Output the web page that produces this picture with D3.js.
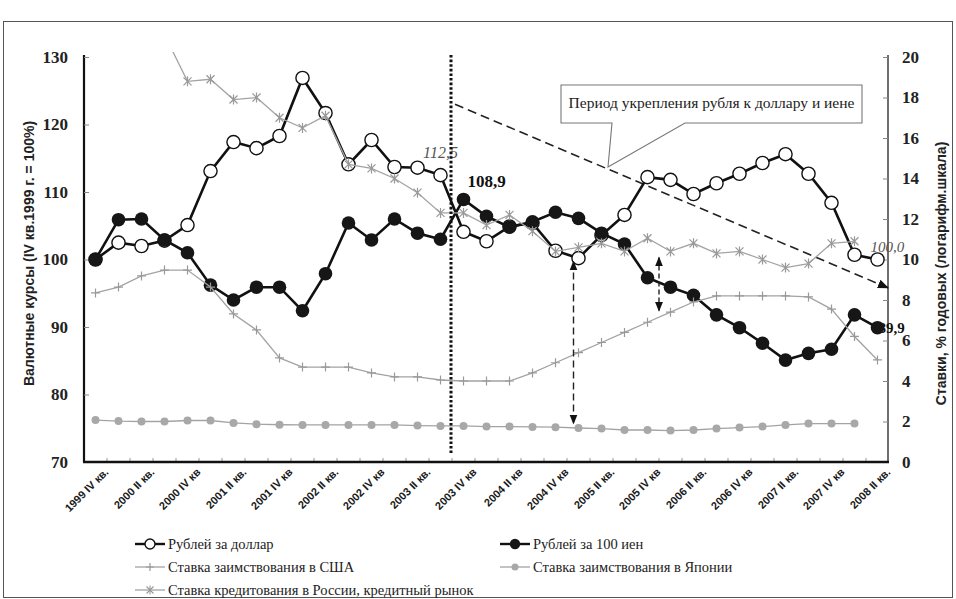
<!DOCTYPE html>
<html><head><meta charset="utf-8">
<script src="https://cdn.jsdelivr.net/npm/d3@7"></script>
<style>body{margin:0;background:#fff}svg{display:block}</style>
</head><body>
<svg id="c" width="956" height="599"></svg>
<script>
const categories = ["1999 IV","2000 I","2000 II","2000 III","2000 IV","2001 I","2001 II","2001 III","2001 IV",
  "2002 I","2002 II","2002 III","2002 IV","2003 I","2003 II","2003 III","2003 IV","2004 I","2004 II","2004 III","2004 IV",
  "2005 I","2005 II","2005 III","2005 IV","2006 I","2006 II","2006 III","2006 IV","2007 I","2007 II","2007 III","2007 IV",
  "2008 I","2008 II"];
const tickLabels = ["1999 IV кв.","2000 II кв.","2000 IV кв","2001 II кв.","2001 IV кв","2002 II кв.","2002 IV кв",
  "2003 II кв.","2003 IV кв","2004 II кв","2004 IV кв","2005 II кв.","2005 IV кв","2006 II кв.","2006 IV кв",
  "2007 II кв.","2007 IV кв","2008 II кв."];
const rubUsd = [100.0,102.5,102.0,102.8,105.1,113.1,117.4,116.5,118.3,126.9,121.7,114.1,117.7,113.7,113.6,112.5,
  104.1,102.7,104.9,105.4,101.3,100.2,103.6,106.6,112.2,111.8,109.7,111.3,112.7,114.3,115.6,112.7,108.4,100.7,100.0];
const rubJpy = [100.0,105.9,106.0,102.9,101.0,96.2,94.0,95.9,95.9,92.4,97.9,105.4,102.9,106.0,103.9,103.0,
  108.9,106.4,104.8,105.6,107.0,106.1,103.9,102.3,97.3,95.9,94.7,91.8,89.9,87.6,85.1,86.1,86.7,91.8,89.9];
const usRate = [8.35,8.64,9.19,9.48,9.48,8.64,7.31,6.52,5.14,4.69,4.69,4.69,4.40,4.2,4.2,4.05,4.0,4.0,4.0,4.4,
  4.9,5.4,5.9,6.4,6.9,7.4,7.9,8.2,8.2,8.2,8.2,8.15,7.55,6.2,5.04];
const jpRate = [2.07,2.02,2.0,2.0,2.05,2.05,1.93,1.87,1.84,1.83,1.83,1.83,1.83,1.83,1.8,1.78,1.78,1.75,1.75,1.73,
  1.72,1.68,1.65,1.58,1.58,1.55,1.58,1.65,1.7,1.75,1.83,1.9,1.9,1.9,null];
const ruRate = [null,null,null,21.1,18.8,18.9,17.9,18.0,17.0,16.5,17.1,14.7,14.5,14.0,13.3,12.3,12.3,11.7,12.2,
  11.4,10.4,10.6,10.8,10.4,11.05,10.4,10.8,10.3,10.4,10.0,9.6,9.8,10.8,10.9,null];
const leftTicks = [70,80,90,100,110,120,130];
const rightTicks = [0,2,4,6,8,10,12,14,16,18,20];
const seriesNames = ["Рублей за доллар","Рублей за 100 иен","Ставка заимствования в США",
  "Ставка заимствования в Японии","Ставка кредитования в России, кредитный рынок"];

const svg = d3.select("#c");
const L = 84, R = 889, T = 57, B = 462;
const x = d3.scaleBand().domain(categories).range([L, R]);
const cx = c => x(c) + x.bandwidth() / 2;
const yL = d3.scaleLinear().domain([70, 130]).range([B, T]);
const yR = d3.scaleLinear().domain([0, 20]).range([B, T]);
const SERIF = "'Liberation Serif','Times New Roman',serif";
const SANS = "'Liberation Sans Narrow','Arial Narrow','Liberation Sans',Arial,sans-serif";

// outer frame
svg.append("rect").attr("x", 3.5).attr("y", 21.5).attr("width", 949).attr("height", 576)
  .attr("fill", "none").attr("stroke", "#555").attr("stroke-width", 1);

const defs = svg.append("defs");
defs.append("clipPath").attr("id", "plot").append("rect")
  .attr("x", L).attr("y", T - 5).attr("width", R - L).attr("height", B - T + 5);
function arrow(id, orient) {
  defs.append("marker").attr("id", id).attr("viewBox", "0 0 10 10").attr("refX", 9).attr("refY", 5)
    .attr("markerWidth", 7).attr("markerHeight", 7).attr("orient", orient)
    .append("path").attr("d", "M0,1 L10,5 L0,9 Z").attr("fill", "#111");
}
arrow("ah", "auto");
arrow("ahs", "auto-start-reverse");

// axes
const gl = svg.append("g").attr("transform", `translate(${L},0)`)
  .call(d3.axisLeft(yL).tickValues(leftTicks).tickSizeInner(-5).tickSizeOuter(0).tickPadding(16));
gl.select(".domain").attr("stroke", "#111").attr("stroke-width", 2.2).attr("d", `M0,${T - 2}V${B}`);
gl.selectAll(".tick line").attr("stroke", "#888");
gl.selectAll("text").attr("font-family", SERIF).attr("font-weight", "bold").attr("font-size", 17).attr("fill", "#222");

const gr = svg.append("g").attr("transform", `translate(${R - 1},0)`)
  .call(d3.axisRight(yR).tickValues(rightTicks).tickSizeInner(-5).tickSizeOuter(0).tickPadding(14));
gr.select(".domain").attr("stroke", "#222").attr("stroke-width", 1.3).attr("d", `M0,${T - 2}V${B}`);
gr.selectAll(".tick line").attr("stroke", "#888");
gr.selectAll("text").attr("font-family", SERIF).attr("font-weight", "bold").attr("font-size", 17).attr("fill", "#222");

// bottom axis
const gb = svg.append("g");
gb.selectAll("line.tk").data(categories.slice(1)).join("line")
  .attr("x1", d => x(d)).attr("x2", d => x(d)).attr("y1", B - 4).attr("y2", B).attr("stroke", "#999");
gb.append("line").attr("x1", L - 1).attr("x2", R).attr("y1", B).attr("y2", B)
  .attr("stroke", "#111").attr("stroke-width", 2.6);
gb.selectAll("text").data(tickLabels).join("text")
  .attr("transform", (d, i) => `translate(${cx(categories[i * 2]) + 11},${B + 8}) rotate(-45)`)
  .attr("text-anchor", "end").attr("dy", "0.35em")
  .attr("font-family", SANS).attr("font-weight", "bold").attr("font-size", 11).attr("fill", "#1a1a1a")
  .text(d => d);

// axis titles
svg.append("text").attr("transform", `translate(34,${(T + B) / 2 - 6}) rotate(-90)`)
  .attr("text-anchor", "middle").attr("font-family", SANS).attr("font-weight", "bold")
  .attr("font-size", 14).attr("fill", "#222").text("Валютные курсы (IV кв.1999 г. = 100%)");
svg.append("text").attr("transform", `translate(946,${(T + B) / 2 + 14}) rotate(-90)`)
  .attr("text-anchor", "middle").attr("font-family", SANS).attr("font-weight", "bold")
  .attr("font-size", 14).attr("fill", "#222").text("Ставки, % годовых (логарифм.шкала)");

// trend dashed arrow
svg.append("line").attr("x1", x(categories[16]) + 3).attr("y1", yL(123.0))
  .attr("x2", R - 1).attr("y2", yL(95.8))
  .attr("stroke", "#222").attr("stroke-width", 1.6).attr("stroke-dasharray", "9,5")
  .attr("marker-end", "url(#ah)");

// callout
{
  const bx0 = 561, bx1 = 862, by0 = 85, by1 = 123;
  const tipX = 608, tipY = 167;
  svg.append("path")
    .attr("d", `M${bx0},${by0}H${bx1}V${by1}H685L${tipX},${tipY}L612,${by1}H${bx0}Z`)
    .attr("fill", "#fff").attr("stroke", "#777").attr("stroke-width", 1.1);
  svg.append("text").attr("x", (bx0 + bx1) / 2).attr("y", 108).attr("text-anchor", "middle")
    .attr("font-family", SERIF).attr("font-size", 15.5).attr("fill", "#222")
    .text("Период укрепления рубля к доллару и иене");
}

// value labels (under markers)
svg.append("text").attr("x", cx(categories[15])).attr("y", 158).attr("text-anchor", "middle")
  .attr("font-family", SERIF).attr("font-style", "italic").attr("font-size", 16).attr("fill", "#555").text("112,5");
svg.append("text").attr("x", cx(categories[16]) + 4).attr("y", 187)
  .attr("font-family", SERIF).attr("font-weight", "bold").attr("font-size", 17).attr("fill", "#111").text("108,9");
svg.append("text").attr("x", cx(categories[34]) - 7).attr("y", 252)
  .attr("font-family", SERIF).attr("font-style", "italic").attr("font-size", 15).attr("fill", "#555").text("100,0");
svg.append("text").attr("x", cx(categories[34]) + 1).attr("y", 333)
  .attr("font-family", SERIF).attr("font-weight", "bold").attr("font-size", 15).attr("fill", "#111").text("89,9");

// series
const plot = svg.append("g").attr("clip-path", "url(#plot)");
const lineOf = (vals, y) => d3.line().defined(d => d != null).x((d, i) => cx(categories[i])).y(d => y(d))(vals);
const pts = vals => vals.map((v, i) => ({ v, c: categories[i] })).filter(d => d.v != null);

// dollar
plot.append("path").attr("d", lineOf(rubUsd, yL)).attr("fill", "none").attr("stroke", "#111").attr("stroke-width", 2.6);
plot.selectAll("c.usd").data(pts(rubUsd)).join("circle").attr("cx", d => cx(d.c)).attr("cy", d => yL(d.v))
  .attr("r", 6.6).attr("fill", "#fff").attr("stroke", "#111").attr("stroke-width", 1.4);
// yen
plot.append("path").attr("d", lineOf(rubJpy, yL)).attr("fill", "none").attr("stroke", "#111").attr("stroke-width", 2.6);
plot.selectAll("c.jpy").data(pts(rubJpy)).join("circle").attr("cx", d => cx(d.c)).attr("cy", d => yL(d.v))
  .attr("r", 6.8).attr("fill", "#161616");
// US
const grayLine = "#a3a3a3";
plot.append("path").attr("d", lineOf(usRate, yR)).attr("fill", "none").attr("stroke", grayLine).attr("stroke-width", 1.3);
plot.selectAll("p.us").data(pts(usRate)).join("path")
  .attr("transform", d => `translate(${cx(d.c)},${yR(d.v)})`)
  .attr("d", "M-4.5,0H4.5M0,-4.5V4.5").attr("stroke", "#999").attr("stroke-width", 1.2);
// Japan
plot.append("path").attr("d", lineOf(jpRate, yR)).attr("fill", "none").attr("stroke", grayLine).attr("stroke-width", 1.3);
plot.selectAll("c.jp").data(pts(jpRate)).join("circle").attr("cx", d => cx(d.c)).attr("cy", d => yR(d.v))
  .attr("r", 4).attr("fill", "#a8a8a8");
// Russia
plot.append("path").attr("d", lineOf(ruRate, yR)).attr("fill", "none").attr("stroke", grayLine).attr("stroke-width", 1.3);
plot.selectAll("p.ru").data(pts(ruRate)).join("path")
  .attr("transform", d => `translate(${cx(d.c)},${yR(d.v)})`)
  .attr("d", "M-4,-4L4,4M-4,4L4,-4M0,-5V5").attr("stroke", "#999").attr("stroke-width", 1.2);

// vertical dotted line (start of ruble strengthening)
svg.append("line").attr("x1", x(categories[16]) - 1).attr("x2", x(categories[16]) - 1)
  .attr("y1", T - 2).attr("y2", B - 9)
  .attr("stroke", "#111").attr("stroke-width", 3).attr("stroke-dasharray", "2.6,2");

// vertical dashed double arrows
svg.append("line").attr("x1", cx(categories[21]) - 5).attr("x2", cx(categories[21]) - 5)
  .attr("y1", yL(99.7)).attr("y2", yR(1.9))
  .attr("stroke", "#222").attr("stroke-width", 1.4).attr("stroke-dasharray", "7,4")
  .attr("marker-start", "url(#ahs)").attr("marker-end", "url(#ah)");
svg.append("line").attr("x1", x(categories[25])).attr("x2", x(categories[25]))
  .attr("y1", yL(100.3)).attr("y2", yL(92.4))
  .attr("stroke", "#222").attr("stroke-width", 1.4).attr("stroke-dasharray", "5,3")
  .attr("marker-start", "url(#ahs)").attr("marker-end", "url(#ah)");

// legend
const leg = svg.append("g");
const legItems = [
  { name: seriesNames[0], col: 0, row: 0, kind: "open" },
  { name: seriesNames[1], col: 1, row: 0, kind: "filled" },
  { name: seriesNames[2], col: 0, row: 1, kind: "plus" },
  { name: seriesNames[3], col: 1, row: 1, kind: "dot" },
  { name: seriesNames[4], col: 0, row: 2, kind: "star" }
];
const colX = [135, 500], rowY = [544, 567, 590];
legItems.forEach(it => {
  const g = leg.append("g").attr("transform", `translate(${colX[it.col]},${rowY[it.row]})`);
  const dark = it.kind === "open" || it.kind === "filled";
  g.append("line").attr("x1", 0).attr("x2", 30).attr("y1", 0).attr("y2", 0)
    .attr("stroke", dark ? "#111" : grayLine).attr("stroke-width", dark ? 2.4 : 1.3);
  if (it.kind === "open") g.append("circle").attr("cx", 15).attr("r", 5).attr("fill", "#fff").attr("stroke", "#111").attr("stroke-width", 1.4);
  if (it.kind === "filled") g.append("circle").attr("cx", 15).attr("r", 5.2).attr("fill", "#161616");
  if (it.kind === "plus") g.append("path").attr("d", "M11,0H19M15,-4V4").attr("stroke", "#999").attr("stroke-width", 1.2);
  if (it.kind === "dot") g.append("circle").attr("cx", 15).attr("r", 3.5).attr("fill", "#a8a8a8");
  if (it.kind === "star") g.append("path").attr("d", "M11.5,-3.5L18.5,3.5M11.5,3.5L18.5,-3.5M15,-4.5V4.5").attr("stroke", "#999").attr("stroke-width", 1.1);
  g.append("text").attr("x", 33).attr("dy", "0.35em").attr("font-family", SERIF).attr("font-size", 14.5)
    .attr("fill", "#222").text(it.name);
});
</script>
</body></html>
